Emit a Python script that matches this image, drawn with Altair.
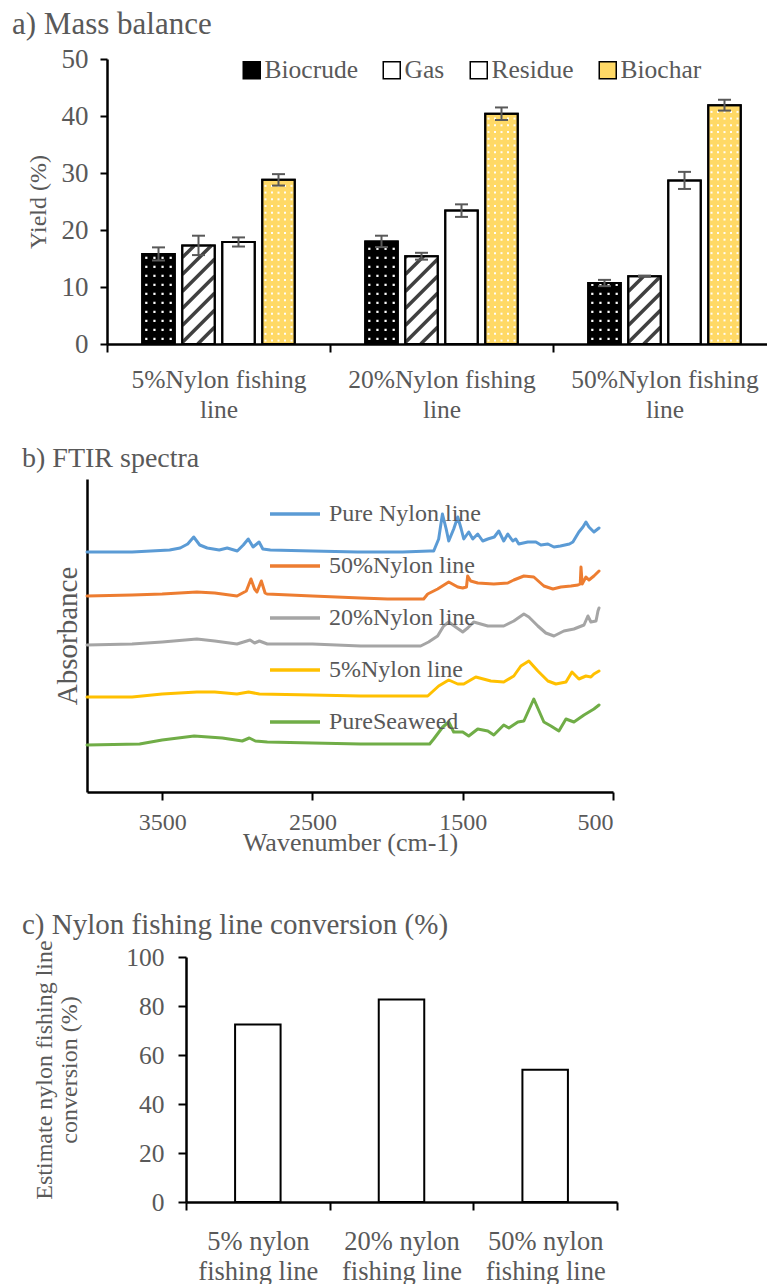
import json
import altair as alt
import pandas as pd

FONT = "Liberation Serif"
TXT = "#595959"

# ---------------- a) Mass balance ----------------
groups_a = ["5%Nylon fishing line", "20%Nylon fishing line", "50%Nylon fishing line"]
series_a = ["Biocrude", "Gas", "Residue", "Biochar"]
biocrude = [15.8, 18.0, 10.7]
gas = [17.3, 15.4, 11.9]
residue = [17.9, 23.4, 28.7]
biochar = [28.8, 40.4, 41.9]
biocrude_err = [1.15, 1.0, 0.55]
gas_err = [1.7, 0.6, 0.1]
residue_err = [0.8, 1.1, 1.5]
biochar_err = [1.0, 1.1, 0.95]
colors_a = ["#000000", "#ffffff", "#ffffff", "#ffd966"]

# ---------------- b) FTIR spectra ----------------
samples_b = ["Pure Nylon line", "50%Nylon line", "20%Nylon line", "5%Nylon line", "PureSeaweed"]
colors_b = ["#5b9bd5", "#ed7d31", "#a5a5a5", "#ffc000", "#70ad47"]

nylon_wn = [4000, 3700, 3450, 3380, 3330, 3290, 3250, 3200, 3120, 3067, 3000, 2960, 2927, 2895, 2855,
            2830, 2780, 2500, 2200, 1900, 1720, 1693, 1660, 1635, 1610, 1593, 1560, 1533, 1510, 1493,
            1460, 1433, 1400, 1367, 1333, 1290, 1260, 1227, 1200, 1167, 1147, 1127, 1067, 1013, 980,
            933, 893, 850, 790, 767, 727, 700, 680, 660, 647, 627, 593]
nylon_abs = [2.40, 2.40, 2.42, 2.44, 2.48, 2.55, 2.47, 2.44, 2.42, 2.44, 2.41, 2.47, 2.53, 2.45, 2.50,
             2.43, 2.42, 2.41, 2.40, 2.40, 2.41, 2.41, 2.53, 2.78, 2.63, 2.51, 2.63, 2.75, 2.63, 2.53,
             2.60, 2.53, 2.58, 2.51, 2.53, 2.55, 2.61, 2.51, 2.58, 2.51, 2.53, 2.48, 2.50, 2.50, 2.47,
             2.48, 2.45, 2.46, 2.48, 2.50, 2.60, 2.65, 2.70, 2.65, 2.63, 2.60, 2.64]

nylon50_wn = [4000, 3700, 3500, 3269, 3150, 3002, 2940, 2909, 2885, 2869, 2840, 2815, 2802, 2500, 2180,
              2000, 1760, 1733, 1667, 1593, 1533, 1500, 1475, 1467, 1447, 1400, 1293, 1200, 1160, 1093,
              1027, 960, 900, 847, 780, 733, 718, 713, 705, 680, 660, 627, 593]
nylon50_abs = [1.96, 1.97, 1.98, 2.00, 1.99, 1.96, 2.01, 2.13, 2.03, 2.00, 2.11, 1.99, 1.98, 1.96, 1.94,
               1.93, 1.93, 1.98, 2.03, 2.10, 2.05, 2.04, 2.05, 2.16, 2.11, 2.09, 2.08, 2.09, 2.12, 2.16,
               2.15, 2.06, 2.03, 2.05, 2.06, 2.07, 2.08, 2.25, 2.08, 2.15, 2.12, 2.16, 2.21]

nylon20_wn = [4000, 3700, 3500, 3269, 3150, 3002, 2915, 2885, 2853, 2800, 2500, 2180, 2047, 1780, 1727,
              1667, 1627, 1593, 1547, 1500, 1467, 1427, 1333, 1227, 1160, 1093, 1060, 1000, 947, 893,
              827, 760, 693, 667, 647, 613, 600, 593]
nylon20_abs = [1.47, 1.48, 1.50, 1.53, 1.51, 1.48, 1.52, 1.49, 1.51, 1.48, 1.48, 1.46, 1.46, 1.46, 1.50,
               1.56, 1.66, 1.70, 1.65, 1.60, 1.64, 1.70, 1.66, 1.66, 1.71, 1.78, 1.75, 1.66, 1.59, 1.56,
               1.61, 1.63, 1.67, 1.76, 1.70, 1.71, 1.81, 1.84]

nylon5_wn = [4000, 3700, 3500, 3269, 3150, 3002, 2925, 2853, 2500, 2180, 2047, 1733, 1660, 1593, 1533,
             1493, 1413, 1313, 1227, 1160, 1113, 1060, 1000, 933, 880, 813, 773, 727, 680, 647, 627, 593]
nylon5_abs = [0.95, 0.95, 0.98, 1.00, 1.00, 0.98, 1.00, 0.98, 0.97, 0.96, 0.96, 0.96, 1.06, 1.12, 1.08,
              1.08, 1.15, 1.11, 1.10, 1.16, 1.26, 1.31, 1.21, 1.11, 1.08, 1.10, 1.20, 1.13, 1.16, 1.15,
              1.18, 1.21]

seaweed_wn = [4000, 3650, 3500, 3287, 3100, 2967, 2920, 2880, 2800, 2500, 2180, 1720, 1693, 1633, 1593,
              1560, 1500, 1460, 1400, 1333, 1293, 1227, 1193, 1133, 1093, 1027, 960, 913, 860, 813,
              760, 693, 627, 593]
seaweed_abs = [0.47, 0.48, 0.52, 0.56, 0.54, 0.51, 0.54, 0.51, 0.50, 0.49, 0.48, 0.48, 0.53, 0.65, 0.70,
               0.60, 0.60, 0.56, 0.63, 0.61, 0.57, 0.67, 0.64, 0.70, 0.71, 0.93, 0.70, 0.66, 0.61, 0.73,
               0.70, 0.77, 0.83, 0.87]

wn_ticks_b = [3500, 2500, 1500, 500]

# ---------------- c) conversion ----------------
groups_c = ["5% nylon fishing line", "20% nylon fishing line", "50% nylon fishing line"]
conversion = [72.4, 82.7, 54.0]

# =========================================================
TICK_COND = {"condition": {"test": "datum.value % 1 == 0", "value": "black"}, "value": "transparent"}


def label_expr(values, labels):
    parts = [f"datum.value == {v} ? {json.dumps(l)}" for v, l in zip(values, labels)]
    return " : ".join(parts) + " : ''"


# all three panels share one plot origin (x = 87 on the page); panels a and c
# start their own x range further right and move their y axis with it.

# ---------------- panel a ----------------
vals = [biocrude, gas, residue, biochar]
errs = [biocrude_err, gas_err, residue_err, biochar_err]
rows = []
for si, s in enumerate(series_a):
    for gi, g in enumerate(groups_a):
        rows.append({"group": g, "series": s, "gi": gi, "si": si,
                     "value": vals[si][gi], "err": errs[si][gi]})
df_a = pd.DataFrame(rows)

SHIFT_A = 20
W_A, H_A, YMAX_A = 680, 285, 50
band_px = 223                      # one category band, in pixels (the last band runs off the page)
XMAX_A = (W_A - SHIFT_A) / band_px
BW = 32.5 / band_px
STRIDE = 40 / band_px
CAP = 6.5 / band_px
K = band_px / (H_A / YMAX_A)      # y-units per x-unit for a 45 degree hatch
HH = BW * K

xs_a = alt.Scale(domain=[0, XMAX_A], range=[SHIFT_A, W_A], nice=False, zero=False)
ys_a = alt.Scale(domain=[0, YMAX_A], nice=False)

mid_a = [i + 0.5 for i in range(len(groups_a))]
axis_xa = alt.Axis(values=sorted(list(range(len(groups_a))) + mid_a), title=None,
                   labelExpr=label_expr(mid_a, [g.rsplit(" ", 1) for g in groups_a]),
                   labelFontSize=25.5, labelLineHeight=30, labelPadding=15, tickSize=8,
                   labelLimit=400, tickColor=TICK_COND, labelOverlap=False, labelFlush=False,
                   grid=False)
axis_ya = alt.Axis(values=[0, 10, 20, 30, 40, 50], title="Yield (%)", titleFontSize=24,
                   labelFontSize=27, tickSize=7, labelPadding=12, titlePadding=11, grid=False,
                   offset=-SHIFT_A)

base_a = alt.Chart(df_a).transform_calculate(
    xl=f"datum.gi + 0.5 + (datum.si - 1.5) * {STRIDE} - {BW / 2}",
    xr=f"datum.xl + {BW}",
    xc=f"datum.xl + {BW / 2}",
    lo="datum.value - datum.err",
    hi="datum.value + datum.err",
    zero="0",
)

X_A = dict(scale=xs_a, axis=axis_xa)
Y_A = dict(scale=ys_a, axis=axis_ya)

bars_fill = base_a.mark_rect(stroke="black", strokeWidth=2).encode(
    x=alt.X("xl:Q", **X_A),
    x2="xr:Q",
    y=alt.Y("value:Q", **Y_A),
    y2="zero:Q",
    fill=alt.Fill("series:N", scale=alt.Scale(domain=series_a, range=colors_a),
                  legend=alt.Legend(orient="none", legendX=152, legendY=-2, direction="horizontal",
                                    title=None, symbolType="square", symbolSize=289,
                                    symbolStrokeColor="black", symbolStrokeWidth=1.5,
                                    labelFontSize=25.5, labelFont=FONT, labelColor=TXT,
                                    columnPadding=21, labelOffset=0)),
)

dots_bc = base_a.transform_filter(f"datum.series == '{series_a[0]}'").transform_calculate(
    row="sequence(0.9, datum.value - 0.3, 1.58)").transform_flatten(["row"]).transform_calculate(
    col="sequence(0, 4)").transform_flatten(["col"]).transform_calculate(
    xd=f"datum.xl + (datum.col + 0.5) * {BW} / 4").mark_square(size=5, color="white", opacity=1).encode(
    x=alt.X("xd:Q", **X_A), y=alt.Y("row:Q", **Y_A))

dots_bh = base_a.transform_filter(f"datum.series == '{series_a[3]}'").transform_calculate(
    row="sequence(0.6, datum.value - 0.3, 1.18)").transform_flatten(["row"]).transform_calculate(
    col="sequence(0, 5)").transform_flatten(["col"]).transform_calculate(
    xd=f"datum.xl + (datum.col + 0.5) * {BW} / 5").mark_square(size=4, color="white", opacity=0.95).encode(
    x=alt.X("xd:Q", **X_A), y=alt.Y("row:Q", **Y_A))

hatch = base_a.transform_filter(f"datum.series == '{series_a[1]}'").transform_calculate(
    c=f"sequence({-HH}, datum.value, 2.98)").transform_flatten(["c"]).transform_calculate(
    hx1=f"datum.xl + max(0, -datum.c) / {K}",
    hy1="max(datum.c, 0)",
    hx2=f"datum.xl + min({HH}, datum.value - datum.c) / {K}",
    hy2=f"min(datum.c + {HH}, datum.value)",
).mark_rule(color="#404040", strokeWidth=3.5).encode(
    x=alt.X("hx1:Q", **X_A), x2="hx2:Q",
    y=alt.Y("hy1:Q", **Y_A), y2="hy2:Q")

outline = base_a.mark_rect(fill="transparent", stroke="black", strokeWidth=2).encode(
    x=alt.X("xl:Q", **X_A), x2="xr:Q",
    y=alt.Y("value:Q", **Y_A), y2="zero:Q")

err_v = base_a.mark_rule(color="#595959", strokeWidth=2).encode(
    x=alt.X("xc:Q", **X_A),
    y=alt.Y("lo:Q", **Y_A), y2="hi:Q")
caps = base_a.transform_calculate(cl=f"datum.xc - {CAP}", cr=f"datum.xc + {CAP}")
cap_hi = caps.mark_rule(color="#595959", strokeWidth=2).encode(
    x=alt.X("cl:Q", **X_A), x2="cr:Q", y=alt.Y("hi:Q", **Y_A))
cap_lo = caps.mark_rule(color="#595959", strokeWidth=2).encode(
    x=alt.X("cl:Q", **X_A), x2="cr:Q", y=alt.Y("lo:Q", **Y_A))

panel_a = alt.layer(bars_fill, dots_bc, dots_bh, hatch, outline, err_v, cap_hi, cap_lo).properties(
    width=W_A, height=H_A,
    title=alt.TitleParams(text="a) Mass balance", anchor="start", frame="group", dx=-75,
                          fontSize=31, offset=4, font=FONT, color=TXT, fontWeight="normal"))

# ---------------- panel b ----------------
rows_b = []
for name, wn, ab in zip(samples_b,
                        [nylon_wn, nylon50_wn, nylon20_wn, nylon5_wn, seaweed_wn],
                        [nylon_abs, nylon50_abs, nylon20_abs, nylon5_abs, seaweed_abs]):
    for w, a in zip(wn, ab):
        rows_b.append({"sample": name, "wavenumber": w, "absorbance": a})
df_b = pd.DataFrame(rows_b)

panel_b = alt.Chart(df_b).mark_line(strokeWidth=3, strokeJoin="round", strokeCap="round").encode(
    x=alt.X("wavenumber:Q", scale=alt.Scale(domain=[500, 4000], reverse=True, nice=False, zero=False),
            axis=alt.Axis(values=wn_ticks_b, format="d", title="Wavenumber (cm-1)",
                          labelFontSize=24, titleFontSize=26, tickSize=8, labelPadding=10,
                          titleY=58, titleBaseline="alphabetic", grid=False)),
    y=alt.Y("absorbance:Q", scale=alt.Scale(domain=[0, 3.13], nice=False, zero=False),
            axis=alt.Axis(title="Absorbance", labels=False, ticks=False, grid=False,
                          titleFontSize=29, titlePadding=5)),
    stroke=alt.Stroke("sample:N", scale=alt.Scale(domain=samples_b, range=colors_b),
                      legend=alt.Legend(orient="none", legendX=181, legendY=8, direction="vertical",
                                        title=None, symbolType="stroke", symbolSize=2500,
                                        symbolStrokeWidth=3.5, labelFontSize=24, labelFont=FONT,
                                        labelColor=TXT, rowPadding=13, labelOffset=7)),
    detail="sample:N",
).properties(
    width=526, height=313,
    title=alt.TitleParams(text="b) FTIR spectra", anchor="start", frame="group", dx=-65,
                          fontSize=28, offset=6, font=FONT, color=TXT, fontWeight="normal"))

# ---------------- panel c ----------------
df_c = pd.DataFrame({"group": groups_c, "gi": list(range(len(groups_c))), "conversion": conversion})
SHIFT_C = 99
W_C, H_C = 530, 245
RANGE_C = W_C - SHIFT_C
BW_C = 45.5 / (RANGE_C / len(groups_c))
mid_c = [i + 0.5 for i in range(len(groups_c))]
lines_c = [[g[:g.index(" fishing")], g[g.index(" fishing") + 1:]] for g in groups_c]
xs_c = alt.Scale(domain=[0, len(groups_c)], range=[SHIFT_C, W_C], nice=False, zero=False)

panel_c = alt.Chart(df_c).transform_calculate(
    xl=f"datum.gi + 0.5 - {BW_C / 2}", xr=f"datum.gi + 0.5 + {BW_C / 2}", zero="0"
).mark_rect(fill="white", stroke="black", strokeWidth=2).encode(
    x=alt.X("xl:Q", scale=xs_c,
            axis=alt.Axis(values=sorted(list(range(len(groups_c) + 1)) + mid_c), title=None,
                          labelExpr=label_expr(mid_c, lines_c), labelFontSize=26.5,
                          labelLineHeight=30, labelPadding=18, tickSize=8, tickColor=TICK_COND,
                          labelLimit=400, labelOverlap=False, labelFlush=False, grid=False)),
    x2="xr:Q",
    y=alt.Y("conversion:Q", scale=alt.Scale(domain=[0, 100], nice=False),
            axis=alt.Axis(values=[0, 20, 40, 60, 80, 100],
                          title=["Estimate nylon fishing line", "conversion (%)"],
                          titleFontSize=24, titleLineHeight=25, labelFontSize=25.5, tickSize=8,
                          labelPadding=14, titlePadding=44, titleY=H_C / 2 - 10, grid=False,
                          offset=-SHIFT_C)),
    y2="zero:Q",
).properties(
    width=W_C, height=H_C,
    title=alt.TitleParams(text="c) Nylon fishing line conversion (%)", anchor="start", frame="group",
                          dx=-65, fontSize=29, offset=0, font=FONT, color=TXT, fontWeight="normal"))

top = alt.vconcat(panel_a, panel_b, spacing=22).resolve_scale(
    fill="independent", stroke="independent").resolve_legend(fill="independent", stroke="independent")
chart = alt.vconcat(top, panel_c, spacing=55).resolve_scale(
    fill="independent", stroke="independent").resolve_legend(fill="independent", stroke="independent")
chart = chart.properties(
    padding={"left": 12, "top": 9, "right": 0, "bottom": 0}
).configure_view(strokeWidth=0).configure_axis(
    domainColor="black", domainWidth=2.5, tickColor="black", tickWidth=2,
    labelColor=TXT, titleColor=TXT, labelFont=FONT, titleFont=FONT, titleFontWeight="normal"
).configure_legend(labelFont=FONT, labelColor=TXT)

chart.save("out.html", embed_options={"renderer": "svg", "actions": False})
